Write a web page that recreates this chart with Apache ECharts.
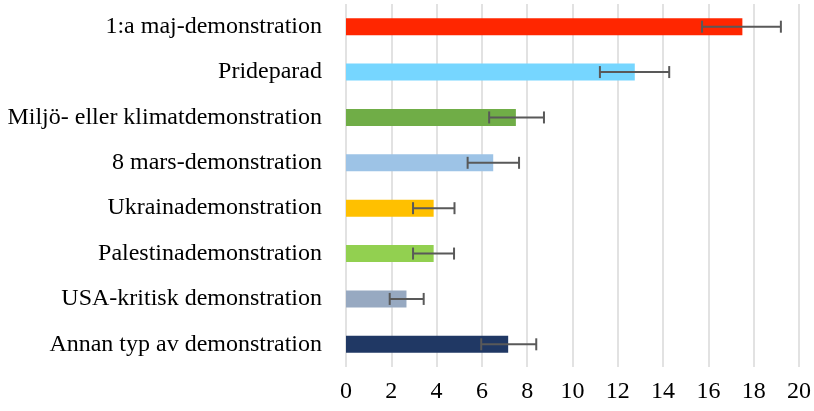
<!DOCTYPE html>
<html>
<head>
<meta charset="utf-8">
<script src="https://cdn.jsdelivr.net/npm/echarts@6/dist/echarts.min.js"></script>
<style>html,body{margin:0;padding:0;background:#fff}#c{width:814px;height:411px}</style>
</head>
<body>
<div id="c"></div>
<script>
const categories = ["1:a maj-demonstration","Prideparad","Miljö- eller klimatdemonstration","8 mars-demonstration","Ukrainademonstration","Palestinademonstration","USA-kritisk demonstration","Annan typ av demonstration"];
const values = [17.5, 12.75, 7.5, 6.5, 3.87, 3.87, 2.67, 7.16];
const errLow = [15.72, 11.21, 6.32, 5.37, 2.96, 2.96, 1.93, 5.97];
const errHigh = [19.2, 14.27, 8.74, 7.64, 4.79, 4.77, 3.43, 8.4];
const colors = ["#FF2600","#76D6FF","#70AD47","#9DC3E6","#FFC000","#92D050","#97A9C1","#203864"];
const xTicks = [0,2,4,6,8,10,12,14,16,18,20];

const font = '"Liberation Serif", "DejaVu Serif", serif';
const chart = echarts.init(document.getElementById('c'));
chart.setOption({
  animation: false,
  grid: {left: 346, right: 13, top: 4, bottom: 44, containLabel: false},
  xAxis: {
    type: 'value', min: xTicks[0], max: xTicks[xTicks.length-1], interval: 2,
    axisLine: {show: false}, axisTick: {show: false},
    splitLine: {show: true, lineStyle: {color: '#D9D9D9', width: 1.5}},
    axisLabel: {color: '#000', fontFamily: font, fontSize: 24, margin: 13}
  },
  yAxis: {
    type: 'category', data: categories, inverse: true,
    axisLine: {show: false}, axisTick: {show: false}, splitLine: {show: false},
    axisLabel: {color: '#000', fontFamily: font, fontSize: 24, margin: 24}
  },
  series: [
    {
      type: 'bar', barWidth: 17,
      data: values.map((v, i) => ({value: v, itemStyle: {color: colors[i]}}))
    },
    {
      type: 'custom',
      data: categories.map((c, i) => [errLow[i], errHigh[i], i]),
      renderItem: function (params, api) {
        const lo = api.coord([api.value(0), api.value(2)]);
        const hi = api.coord([api.value(1), api.value(2)]);
        const h = 6;
        const style = {stroke: '#595959', lineWidth: 2};
        return {
          type: 'group',
          children: [
            {type: 'line', shape: {x1: lo[0], y1: lo[1], x2: hi[0], y2: hi[1]}, style: style},
            {type: 'line', shape: {x1: lo[0], y1: lo[1]-h, x2: lo[0], y2: lo[1]+h}, style: style},
            {type: 'line', shape: {x1: hi[0], y1: hi[1]-h, x2: hi[0], y2: hi[1]+h}, style: style}
          ]
        };
      },
      encode: {x: [0, 1], y: 2},
      z: 10
    }
  ]
});
</script>
</body>
</html>
